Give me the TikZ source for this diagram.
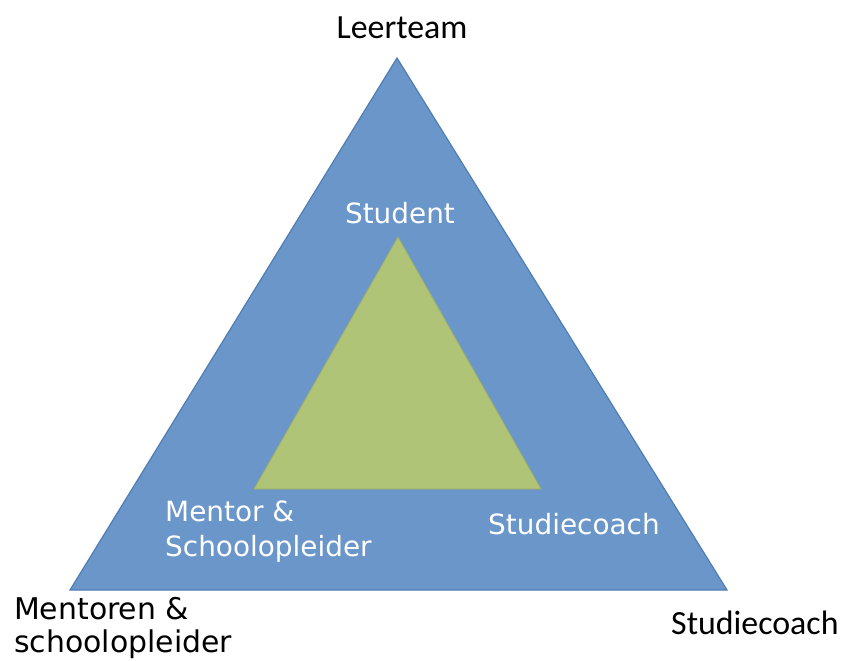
\documentclass[tikz,border=0pt]{standalone}
\usepackage{fontspec}
\setmainfont{DejaVu Sans}
\newfontfamily\labelfont{Carlito}
\usetikzlibrary{positioning,calc}
\definecolor{outerblue}{HTML}{6B96C9}
\definecolor{outerline}{HTML}{4F7DB5}
\definecolor{innergreen}{HTML}{B0C477}
\definecolor{innerline}{HTML}{9DB068}
\tikzset{
    x=1bp,
    y=-1bp,
    outer/.style = {
        draw=outerline,
        fill=outerblue,
        line width=1.2bp,
        line join=miter
    },
    inner/.style = {
        draw=innerline,
        fill=innergreen,
        line width=0.8bp
    },
    corner/.style = {
        font=\labelfont\fontsize{34}{38}\selectfont,
        text=black,
        inner sep=0pt
    },
    cornerleft/.style = {
        font=\fontsize{30}{33}\selectfont,
        text=black,
        align=left,
        inner sep=0pt
    },
    whitelabel/.style = {
        font=\fontsize{28}{35}\selectfont,
        text=white,
        align=left,
        inner sep=0pt
    },
}
\begin{document}
\begin{tikzpicture}
            \useasboundingbox (0,0) rectangle (841,661);

            \coordinate (top) at (397,58);
            \coordinate (left) at (70,590);
            \coordinate (right) at (727,590);

            \coordinate (in_top) at (398,237);
            \coordinate (in_left) at (254,489);
            \coordinate (in_right) at (541,489);

            \path[outer] (top) -- (left) -- (right) -- cycle;
            \path[inner] (in_top) -- (in_left) -- (in_right) -- cycle;

            \node[corner] (leerteam) at (402,28) {Leerteam};
            \node[corner, anchor=west] (studiecoach) at (671,623) {Studiecoach};
            \node[cornerleft, anchor=north west] (mentoren) at (14,597) {Mentoren \&\\schoolopleider};

            \node[whitelabel] (student) at (400,213) {Student};
            \node[whitelabel, anchor=north west] (mentor) at (165,501) {Mentor \&\\Schoolopleider};
            \node[whitelabel, anchor=west] (coach) at (488,524) {Studiecoach};

\end{tikzpicture}
\end{document}
